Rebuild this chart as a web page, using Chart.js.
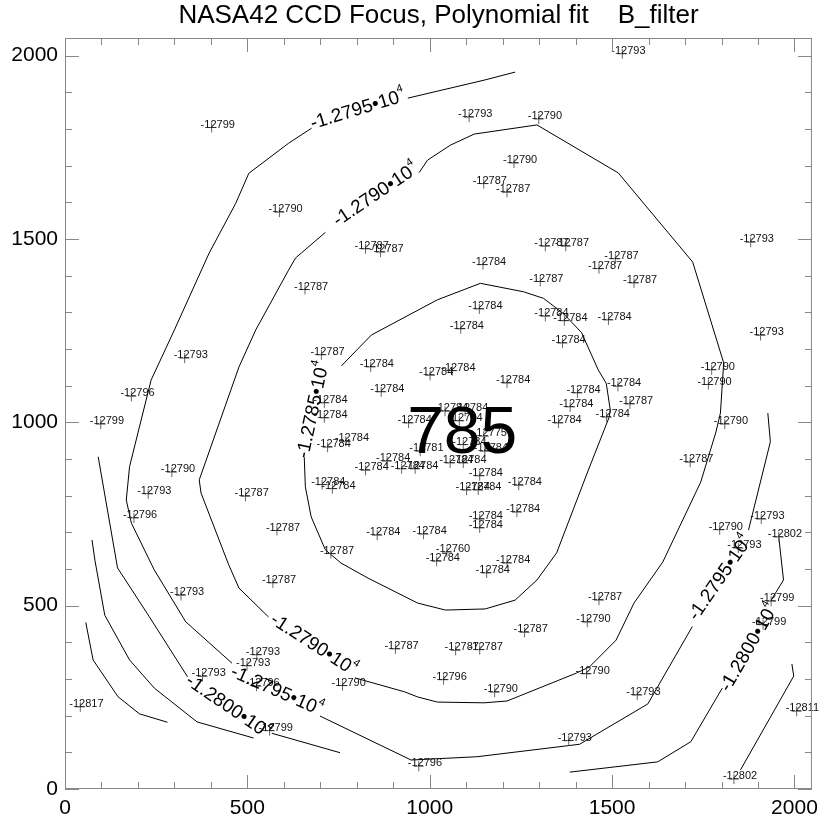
<!DOCTYPE html>
<html>
<head>
<meta charset="utf-8">
<script src="https://cdn.jsdelivr.net/npm/chart.js@4"></script>
<style>
  body { margin: 0; background: #fff; }
</style>
</head>
<body>
<canvas id="focusChart" width="825" height="822"></canvas>
<script>
// measured points (CCD x, CCD y) and their focus values
const ptX = [1528, 402, 588, 824, 865, 658, 328, 703, 838, 1108, 1299, 1231, 1148, 1212, 1317, 1373, 1509, 1464, 1560, 1146,
  1303, 1880, 1907, 1136, 1085, 1317, 1369, 1490, 1364, 1773, 182, 98, 293, 228, 189, 495, 581, 1001, 1062, 1212,
  867, 711, 711, 942, 1042, 1097, 1081, 720, 770, 974, 1092, 1148, 1151, 883, 824, 923, 960, 1056, 1092, 1137,
  705, 733, 1101, 1133, 1244, 1239, 1137, 1137, 856, 983, 729, 1047, 1019, 1212, 1156, 1764, 1516, 1405, 1549, 1385,
  1485, 1353, 1809, 1714, 1909, 1795, 1957, 1846, 570, 318, 906, 526, 499, 377, 525, 761, 42, 561, 970, 1464,
  1432, 1260, 1071, 1137, 1038, 1178, 1430, 1569, 1381, 1936, 1914, 2006, 1834];
const ptY = [2005, 1804, 1573, 1473, 1464, 1362, 1175, 1184, 1151, 1832, 1827, 1707, 1651, 1627, 1480, 1480, 1446, 1419, 1380, 1430,
  1384, 1491, 1237, 1309, 1255, 1289, 1277, 1279, 1216, 1143, 1071, 995, 864, 805, 739, 798, 705, 1128, 1141, 1107,
  1083, 1053, 1012, 998, 1030, 1030, 1004, 932, 948, 921, 939, 962, 921, 894, 869, 873, 873, 889, 889, 854,
  830, 819, 815, 815, 828, 755, 736, 712, 692, 695, 642, 646, 621, 616, 589, 1103, 1098, 1080, 1050, 1042,
  1014, 998, 995, 891, 736, 707, 687, 657, 562, 528, 382, 366, 336, 307, 280, 282, 224, 159, 62, 515,
  455, 427, 378, 380, 298, 264, 314, 256, 132, 512, 448, 212, 27];
const ptVal = [-12793, -12799, -12790, -12787, -12787, -12787, -12793, -12787, -12784, -12793, -12790, -12790, -12787, -12787, -12787, -12787, -12787, -12787, -12787, -12784,
  -12787, -12793, -12793, -12784, -12784, -12784, -12784, -12784, -12784, -12790, -12796, -12799, -12790, -12793, -12796, -12787, -12787, -12784, -12784, -12784,
  -12784, -12784, -12784, -12784, -12784, -12784, -12784, -12784, -12784, -12781, -12784, -12775, -12784, -12784, -12784, -12784, -12784, -12784, -12784, -12784,
  -12784, -12784, -12784, -12784, -12784, -12784, -12784, -12784, -12784, -12784, -12787, -12760, -12784, -12784, -12784, -12790, -12784, -12784, -12787, -12784,
  -12784, -12784, -12790, -12787, -12793, -12790, -12802, -12793, -12787, -12793, -12787, -12793, -12793, -12793, -12796, -12790, -12817, -12799, -12796, -12787,
  -12790, -12787, -12787, -12787, -12796, -12790, -12790, -12793, -12793, -12799, -12799, -12811, -12802];

// contour polylines of the fit, one array per piece
const c785 = [[758, 1154], [840, 1238], [1021, 1334], [1139, 1379], [1257, 1356], [1312, 1338], [1366, 1297], [1416, 1245],
  [1462, 1143], [1484, 1106], [1495, 1034], [1492, 1014], [1435, 870], [1348, 644], [1294, 570], [1234, 515], [1152, 491],
  [1043, 488], [967, 507], [831, 575], [757, 616], [714, 652], [675, 742], [659, 824], [656, 905]];
const c790a = [[971, 1681], [994, 1715], [1057, 1756], [1122, 1786], [1294, 1811], [1517, 1680], [1721, 1437], [1806, 1162],
  [1797, 1025], [1784, 971], [1743, 837], [1639, 619], [1560, 507], [1511, 406], [1438, 333], [1402, 316], [1212, 240],
  [1149, 235], [1021, 237], [967, 251], [931, 265], [795, 303]];
const c790b = [[558, 469], [477, 548], [449, 611], [373, 807], [368, 843], [477, 1151], [523, 1252], [613, 1415], [632, 1448], [714, 1518]];
const c795top = [[940, 1884], [1149, 1933], [1234, 1955]];
const c795left = [[676, 1802], [613, 1761], [504, 1679], [468, 1597], [395, 1461], [300, 1252], [236, 1115], [177, 879],
  [168, 788], [182, 725], [245, 597], [331, 456], [458, 343]];
const c795bottom = [[699, 199], [949, 79], [1130, 88], [1411, 122], [1598, 232], [1720, 443]];
const c795right = [[1874, 706], [1934, 947], [1927, 1025]];
const c800left = [[91, 906], [144, 603], [231, 470], [336, 306]];
const c800left2 = [[567, 152], [754, 99]];
const c800right = [[1957, 687], [1970, 570], [1936, 515]];
const c800low = [[1802, 275], [1716, 129], [1625, 74], [1384, 46]];
const c805left = [[74, 679], [82, 624], [109, 474], [177, 352], [245, 275], [362, 183], [517, 139]];
const c805right = [[1993, 341], [1998, 308], [1961, 243], [1852, 52]];
const c810 = [[57, 454], [77, 352], [145, 252], [204, 205], [281, 182]];

// contour labels: value, position along the line, angle on screen (deg)
const clbText = ["-1.2795", "-1.2790", "-1.2785", "-1.2790", "-1.2795", "-1.2800", "-1.2795", "-1.2800"];
const clbX = [803, 852, 681, 681, 580, 447, 1797, 1876];
const clbY = [1852, 1620, 1034, 393, 267, 224, 575, 385];
const clbAngle = [-17, -34, -78, 33, 24, 34.5, -55.5, -60];

const bigNote = "785";
const bigNoteX = 1089;
const bigNoteY = 916;

const xTicks = [0, 500, 1000, 1500, 2000];

const FONT = "'Liberation Sans', Arial, Helvetica, sans-serif";

const contourPieces = [c785, c790a, c790b, c795top, c795left, c795bottom, c795right,
  c800left, c800left2, c800right, c800low, c805left, c805right, c810];

const contourSets = contourPieces.map((piece) => ({
  data: piece.map((p) => ({ x: p[0], y: p[1] })),
  showLine: true,
  pointRadius: 0,
  borderColor: "#000",
  borderWidth: 1,
  tension: 0,
  fill: false,
}));

const pointSet = {
  data: ptX.map((x, i) => ({ x: x, y: ptY[i] })),
  pointStyle: "cross",
  pointRadius: 5,
  borderColor: "#666",
  borderWidth: 1,
  showLine: false,
};

// labels, frame, ticks, title and the big note
const overlay = {
  id: "overlay",
  afterDatasetsDraw(chart) {
    const { ctx, scales } = chart;
    const xs = scales.x, ys = scales.y;
    ctx.save();
    ctx.fillStyle = "#111";
    ctx.font = "11px " + FONT;
    ctx.textAlign = "left";
    ctx.textBaseline = "middle";
    ptVal.forEach((v, i) => {
      const px = xs.getPixelForValue(ptX[i]);
      const py = ys.getPixelForValue(ptY[i]);
      ctx.fillText(String(v), px - 11, py - 3);
    });

    clbText.forEach((t, i) => {
      const px = xs.getPixelForValue(clbX[i]);
      const py = ys.getPixelForValue(clbY[i]);
      const main = t + "\u2022" + "10";
      ctx.font = "19px " + FONT;
      const w1 = ctx.measureText(main).width;
      ctx.font = "11px " + FONT;
      const w2 = ctx.measureText("4").width;
      const total = w1 + w2;
      ctx.save();
      ctx.translate(px, py);
      ctx.rotate((clbAngle[i] * Math.PI) / 180);
      ctx.fillStyle = "#000";
      ctx.textBaseline = "middle";
      ctx.font = "19px " + FONT;
      ctx.fillText(main, -total / 2, 0);
      ctx.font = "11px " + FONT;
      ctx.fillText("4", -total / 2 + w1, -8);
      ctx.restore();
    });
    ctx.restore();
  },
  afterDraw(chart) {
    const { ctx, chartArea: a, scales } = chart;
    const xs = scales.x, ys = scales.y;
    ctx.save();
    ctx.strokeStyle = "#888";
    ctx.lineWidth = 1;
    ctx.strokeRect(a.left + 0.5, a.top + 0.5, a.right - a.left - 1, a.bottom - a.top - 1);
    ctx.beginPath();
    for (let v = 0; v <= 2000; v += 100) {
      const len = v % 500 === 0 ? 14 : 7;
      const px = Math.round(xs.getPixelForValue(v)) + 0.5;
      const py = Math.round(ys.getPixelForValue(v)) + 0.5;
      ctx.moveTo(px, a.bottom); ctx.lineTo(px, a.bottom - len);
      ctx.moveTo(px, a.top); ctx.lineTo(px, a.top + len);
      ctx.moveTo(a.left, py); ctx.lineTo(a.left + len, py);
      ctx.moveTo(a.right, py); ctx.lineTo(a.right - len, py);
    }
    ctx.stroke();

    ctx.fillStyle = "#000";
    ctx.font = "26px " + FONT;
    ctx.textAlign = "center";
    ctx.textBaseline = "middle";
    ctx.fillText("NASA42 CCD Focus, Polynomial fit    B_filter", (a.left + a.right) / 2, 16);

    ctx.font = "66px " + FONT;
    ctx.textBaseline = "alphabetic";
    ctx.fillText(bigNote, xs.getPixelForValue(bigNoteX), ys.getPixelForValue(bigNoteY));
    ctx.restore();
  },
};

document.addEventListener("DOMContentLoaded", () => {
  const ctx = document.getElementById("focusChart").getContext("2d");
  new Chart(ctx, {
    type: "scatter",
    data: { datasets: [pointSet, ...contourSets] },
    options: {
      responsive: false,
      animation: false,
      layout: { padding: { top: 38, right: 8, left: 0, bottom: 0 } },
      plugins: { legend: { display: false }, tooltip: { enabled: false } },
      scales: {
        x: {
          type: "linear",
          min: 0,
          max: 2048,
          afterBuildTicks: (s) => { s.ticks = xTicks.map((v) => ({ value: v })); },
          afterFit: (s) => { s.height = 33; },
          ticks: { font: { size: 21, family: FONT }, color: "#000", padding: 7, maxRotation: 0,
            callback: (v) => String(v) },
          grid: { display: false, drawTicks: false },
          border: { display: false },
        },
        y: {
          type: "linear",
          min: 0,
          max: 2048,
          afterBuildTicks: (s) => { s.ticks = xTicks.map((v) => ({ value: v })); },
          afterFit: (s) => { s.width = 65; },
          ticks: { font: { size: 21, family: FONT }, color: "#000", padding: 7,
            callback: (v) => String(v) },
          grid: { display: false, drawTicks: false },
          border: { display: false },
        },
      },
    },
    plugins: [overlay],
  });
});
</script>
</body>
</html>
